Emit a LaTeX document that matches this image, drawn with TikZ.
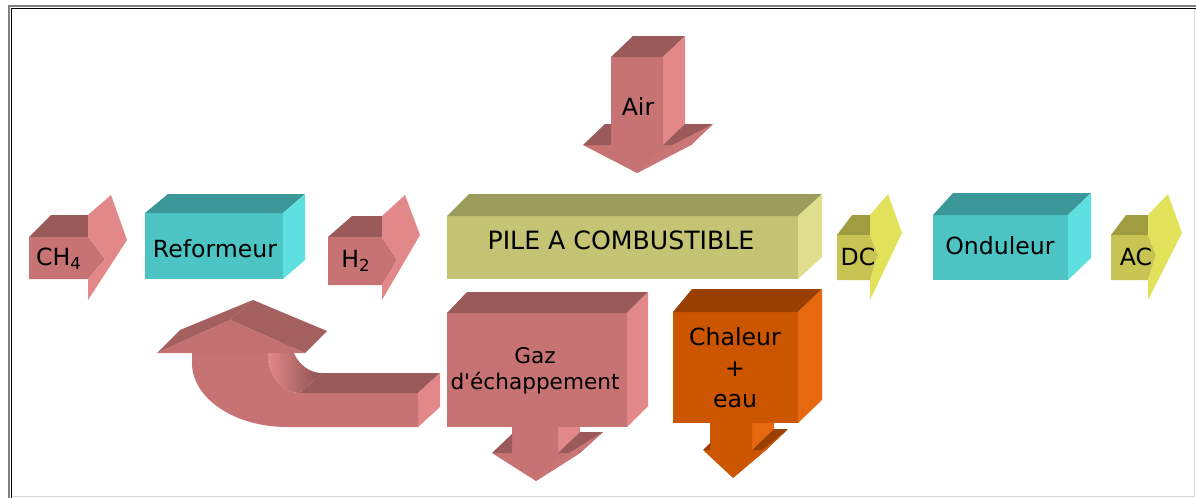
\documentclass[tikz,border=0pt]{standalone}
\usepackage{fontspec}
\setmainfont{DejaVu Sans}
\newfontfamily\straightq{DejaVu Sans}
\definecolor{pkF}{RGB}{199,115,115}
\definecolor{pkD}{RGB}{155,90,90}
\definecolor{pkL}{RGB}{226,136,136}
\definecolor{tlF}{RGB}{76,196,196}
\definecolor{tlD}{RGB}{60,152,152}
\definecolor{tlL}{RGB}{94,224,224}
\definecolor{olF}{RGB}{196,196,116}
\definecolor{olD}{RGB}{156,156,92}
\definecolor{olL}{RGB}{222,222,140}
\definecolor{yeF}{RGB}{200,196,84}
\definecolor{yeD}{RGB}{160,156,64}
\definecolor{yeL}{RGB}{226,226,90}
\definecolor{orF}{RGB}{204,85,0}
\definecolor{orD}{RGB}{153,64,0}
\definecolor{orL}{RGB}{232,104,16}
\begin{document}
\begin{tikzpicture}[x=0.5pt,y=-0.5pt,
  lab/.style={font=\fontsize{11.8}{13}\selectfont, text=black, inner sep=0pt, align=center},
  frameG/.style={draw=black!50, line width=1pt},
  frameK/.style={draw=black, line width=0.8pt}]
\useasboundingbox (0,0) rectangle (1196,498);
\fill[white] (0,0) rectangle (1196,498);
% frame
\draw[frameG] (8.5,498) -- (8.5,5.5) -- (1196,5.5);
\draw[frameK] (11.5,498) -- (11.5,8.5) -- (1196,8.5);
\draw[draw=black!15, line width=0.6pt] (12,496.5) -- (1194.5,496.5) -- (1194.5,9);

% ---------- CH4 arrow
\fill[pkD] (29,237) -- (51,215) -- (88,215) -- (88,237) -- cycle;
\fill[pkF] (29,237) -- (88,237) -- (105,259) -- (88,279) -- (29,279) -- cycle;
\fill[pkL] (88,215) -- (111,195) -- (127,240) -- (88,300) -- (88,279) -- (105,259) -- (88,237) -- cycle;
\node[lab] (tch4) at (59,259) {CH\textsubscript{4}};

% ---------- Reformeur box
\fill[tlF] (145,213) rectangle (283,279);
\fill[tlD] (145,213) -- (168,194) -- (305,194) -- (283,213) -- cycle;
\fill[tlL] (283,213) -- (305,194) -- (305,260) -- (283,279) -- cycle;
\node[lab] (tref) at (215,249) {Reformeur};

% ---------- H2 arrow
\fill[pkD] (328,237) -- (352,216) -- (382,216) -- (382,237) -- cycle;
\fill[pkF] (328,237) -- (382,237) -- (397,260) -- (382,285) -- (328,285) -- cycle;
\fill[pkL] (382,216) -- (405,195) -- (420,235) -- (382,300) -- (382,285) -- (397,260) -- (382,237) -- cycle;
\node[lab] (th2) at (356,261) {H\textsubscript{2}};

% ---------- Air arrow
\fill[pkD] (611,57) -- (633,36) -- (685,36) -- (663,57) -- cycle;
\fill[pkL] (663,57) -- (685,36) -- (685,124) -- (663,145) -- cycle;
\fill[pkF] (611,57) -- (663,57) -- (663,145) -- (691,145) -- (637,173) -- (583,145) -- (611,145) -- cycle;
\fill[pkD] (583,145) -- (605,124) -- (611,124) -- (611,145) -- cycle;
\fill[pkD] (663,145) -- (685,124) -- (713,124) -- (691,145) -- cycle;
\fill[pkF!85!pkL] (691,145) -- (713,124) -- (659,152) -- (637,173) -- cycle;
\node[lab] (tair) at (638,107) {Air};

% ---------- PILE box
\fill[olF] (447,216) rectangle (798,279);
\fill[olD] (447,216) -- (469,194) -- (822,194) -- (798,216) -- cycle;
\fill[olL] (798,216) -- (822,194) -- (822,257) -- (798,279) -- cycle;
\node[lab, font=\fontsize{12.6}{14}\selectfont] (tpile) at (621,240) {PILE A COMBUSTIBLE};

% ---------- DC arrow
\fill[yeD] (837,235) -- (852,215) -- (870,215) -- (870,235) -- cycle;
\fill[yeF] (837,235) -- (870,235) -- (878,255) -- (870,280) -- (837,280) -- cycle;
\fill[yeL] (870,215) -- (888,194) -- (902,233) -- (870,300) -- (870,280) -- (878,255) -- (870,235) -- cycle;
\node[lab] (tdc) at (858,257) {DC};

% ---------- Onduleur box
\fill[tlF] (933,215) rectangle (1068,280);
\fill[tlD] (933,215) -- (953,193) -- (1091,193) -- (1068,215) -- cycle;
\fill[tlL] (1068,215) -- (1091,193) -- (1091,258) -- (1068,280) -- cycle;
\node[lab] (tond) at (1000,246) {Onduleur};

% ---------- AC arrow
\fill[yeD] (1111,235) -- (1126,215) -- (1148,215) -- (1148,235) -- cycle;
\fill[yeF] (1111,235) -- (1148,235) -- (1156,255) -- (1148,280) -- (1111,280) -- cycle;
\fill[yeL] (1148,215) -- (1168,194) -- (1182,233) -- (1148,300) -- (1148,280) -- (1156,255) -- (1148,235) -- cycle;
\node[lab] (tac) at (1136,257) {AC};

% ---------- return (curved) arrow
\fill[pkD] (300,393) -- (322,373) -- (440,373) -- (418,393) -- cycle;
\fill[pkL] (418,393) -- (440,373) -- (440,407) -- (418,427) -- cycle;
\shade[left color=pkL, right color=pkD!90!black]
  (268,353) -- (268,355) .. controls (268,376) and (282.3,393) .. (300,393)
  -- (322,373) .. controls (304.3,373) and (290,356) .. (290,335) -- cycle;
\fill[pkF] (192,353) -- (192,363) .. controls (192,398.3) and (234.5,427) .. (287,427)
  -- (418,427) -- (418,393) -- (300,393) .. controls (282.3,393) and (268,376) .. (268,355)
  -- (268,353) -- cycle;
\fill[pkD!80!pkF] (157,353) -- (180,330) -- (253,300) -- (230,320) -- cycle;
\fill[pkD!80!pkF] (230,320) -- (253,300) -- (327,331) -- (305,353) -- cycle;
\fill[pkF!90!pkD] (157,353) -- (230,320) -- (305,353) -- cycle;

% ---------- Gaz arrow and box
\fill[pkL] (558,410) -- (580,389) -- (580,432) -- (558,453) -- cycle;
\fill[pkF] (512,410) -- (558,410) -- (558,453) -- (580,453) -- (536,481) -- (492,453) -- (512,453) -- cycle;
\fill[pkD] (492,453) -- (512,434) -- (512,453) -- cycle;
\fill[pkD] (558,453) -- (580,432) -- (603,432) -- (580,453) -- cycle;
\fill[pkF!85!pkL] (580,453) -- (603,432) -- (558,460) -- (536,481) -- cycle;
\fill[pkF] (447,313) rectangle (627,427);
\fill[pkD] (447,313) -- (467,292) -- (648,292) -- (627,313) -- cycle;
\fill[pkL] (627,313) -- (648,292) -- (648,406) -- (627,427) -- cycle;
\node[lab, font=\fontsize{10.8}{13}\selectfont] (tgaz) at (535,371) {Gaz\\d{\straightq'}échappement};

% ---------- Chaleur arrow and box
\fill[orL] (752,405) -- (774,384) -- (774,429) -- (752,450) -- cycle;
\fill[orF] (710,405) -- (752,405) -- (752,450) -- (766,450) -- (733,478) -- (703,450) -- (710,450) -- cycle;
\fill[orD] (703,450) -- (710,443) -- (710,450) -- cycle;
\fill[orD] (752,450) -- (774,429) -- (788,429) -- (766,450) -- cycle;
\fill[orF!85!orL] (766,450) -- (788,429) -- (755,456) -- (733,478) -- cycle;
\fill[orF] (673,312) rectangle (798,423);
\fill[orD] (673,312) -- (692,289) -- (822,289) -- (798,312) -- cycle;
\fill[orL] (798,312) -- (822,289) -- (822,400) -- (798,423) -- cycle;
\node[lab, font=\fontsize{11.8}{15.5}\selectfont] (tchal) at (735,368) {Chaleur\\+\\eau};
\end{tikzpicture}
\end{document}
